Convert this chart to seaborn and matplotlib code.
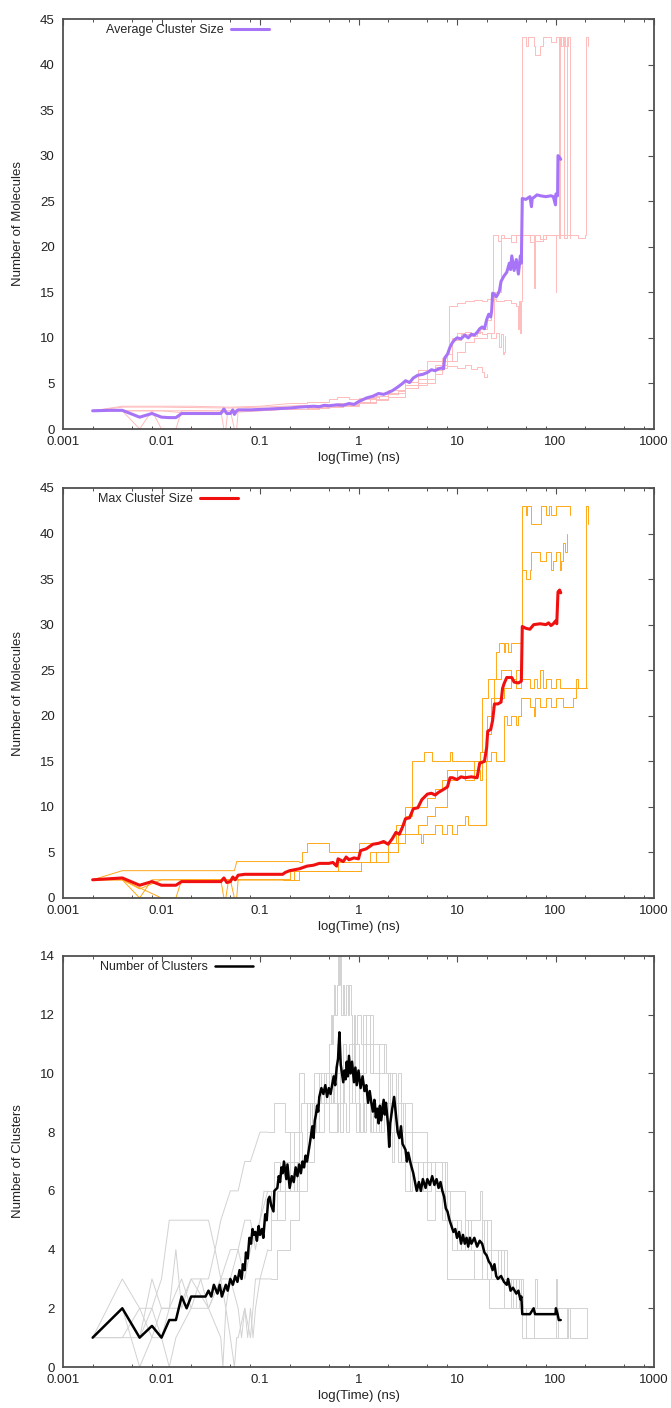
import numpy as np
import matplotlib
matplotlib.use("Agg")
import matplotlib.pyplot as plt
import seaborn as sns
from matplotlib.ticker import FixedLocator, FixedFormatter, LogLocator, NullFormatter

# ---------------- data ----------------
x_ticks = [0.001, 0.01, 0.1, 1, 10, 100, 1000]
x_tick_labels = ["0.001", "0.01", "0.1", "1", "10", "100", "1000"]

# Panel 1: average cluster size (mean over runs), (time ns, value)
avg_mean = [(0.002, 2.0), (0.003, 2.05), (0.004, 2.05), (0.006, 1.3), (0.008, 1.7), (0.01, 1.3), (0.012, 1.25),
            (0.014, 1.25), (0.016, 1.7), (0.02, 1.7), (0.03, 1.7), (0.04, 1.7), (0.043, 2.2), (0.046, 1.7),
            (0.05, 1.7), (0.053, 2.1), (0.055, 1.6), (0.058, 2.0), (0.06, 2.1), (0.08, 2.1), (0.1, 2.15),
            (0.13, 2.2), (0.16, 2.25), (0.2, 2.3), (0.25, 2.4), (0.3, 2.45), (0.35, 2.5), (0.4, 2.45),
            (0.45, 2.6), (0.5, 2.55), (0.6, 2.65), (0.7, 2.6), (0.8, 2.8), (0.9, 2.7), (1.0, 3.0), (1.1, 3.2),
            (1.2, 3.4), (1.4, 3.6), (1.6, 3.9), (1.8, 3.8), (2.0, 4.0), (2.2, 4.2), (2.5, 4.6), (2.8, 5.0),
            (3.0, 5.3), (3.3, 5.1), (3.6, 5.6), (4.0, 5.9), (4.5, 6.0), (5.0, 6.2), (5.5, 6.5), (6.0, 6.4),
            (6.5, 6.6), (7.0, 6.7), (7.3, 6.6), (7.5, 7.8), (8.0, 8.2), (8.5, 9.0), (9.0, 9.5), (9.5, 9.8),
            (10, 10.0), (11, 9.9), (12, 10.3), (13, 10.0), (14, 10.4), (15, 10.3), (16, 10.6), (17, 11.0),
            (18, 11.2), (19, 11.0), (20, 12.0), (21, 12.6), (22, 12.3), (22.5, 13.0), (23, 14.9), (24, 14.8),
            (25, 14.5), (26, 14.8), (27, 15.2), (28, 16.2), (30, 16.8), (32, 17.2), (34, 18.2), (35, 17.5),
            (36, 19.0), (38, 17.4), (40, 18.6), (42, 17.0), (44, 19.0), (45, 18.2), (46, 25.3), (50, 25.2),
            (55, 25.5), (57, 24.4), (58, 25.3), (60, 25.4), (65, 25.7), (70, 25.6), (80, 25.5), (90, 25.6),
            (95, 25.5), (100, 24.6), (101, 25.8), (105, 25.6), (106, 30.0), (110, 29.8), (113, 29.6)]

# Panel 1: individual runs
avg_run1 = [(0.002, 2), (0.004, 2), (0.006, 0), (0.008, 2), (0.01, 2), (0.04, 2), (0.043, 0), (0.045, 0),
            (0.047, 2), (0.1, 2), (0.2, 2.2), (0.3, 2.3), (0.5, 2.5), (0.8, 2.5), (1.0, 3), (1.5, 3.3), (2, 3.5),
            (3, 4.5), (4, 5), (5, 5), (6, 6), (7, 6.7), (8, 6.9), (10, 6.7), (12, 7), (14, 6.6), (16, 6.8),
            (18, 6.3), (19, 5.7), (20, 6.0)]
avg_run2 = [(0.002, 2), (0.004, 2), (0.006, 2), (0.008, 2), (0.01, 0), (0.014, 0), (0.016, 2), (0.05, 2),
            (0.055, 0), (0.058, 0), (0.06, 2), (0.1, 2.2), (0.2, 2.4), (0.4, 2.6), (0.7, 2.7), (1, 2.9),
            (1.3, 3.5), (1.6, 3.3), (2, 3.8), (2.5, 4.2), (3, 4.8), (4, 5.5), (5, 6.5), (6, 6.8), (7, 7.5),
            (8, 8.2), (9, 10), (10, 10.5), (12, 10.6), (14, 10.2), (16, 10.6), (18, 10.4), (20, 10.5),
            (22, 10.0), (25, 10.5), (27, 9), (28, 10.4), (29, 8.2), (30, 8.5), (31, 10.2)]
avg_run3 = [(0.002, 2), (0.004, 2.5), (0.02, 2.5), (0.05, 2.4), (0.1, 2.5), (0.2, 2.8), (0.3, 3.0), (0.5, 3.3),
            (0.6, 3.5), (0.8, 3.3), (1.0, 3.4), (1.5, 3.8), (2, 4.3), (3, 5.2), (4, 6.5), (5, 7.5), (6, 7.5),
            (7, 7.8), (8, 8.3), (8.3, 13.5), (10, 13.8), (12, 14.0), (15, 14.2), (18, 14.1), (20, 14.3),
            (25, 14.0), (30, 14.2), (35, 13.8), (40, 13.5), (42, 11), (43, 14), (44, 10.5), (45, 14), (46, 43),
            (50, 42), (52, 43), (55, 43), (60, 42), (62, 41), (70, 42), (75, 43), (80, 43), (90, 42.5),
            (100, 43), (108, 21), (110, 43), (120, 43), (122, 21), (130, 43)]
avg_run4 = [(0.002, 2), (0.004, 2.4), (0.01, 2.4), (0.05, 2.3), (0.1, 2.4), (0.3, 2.6), (0.6, 2.9), (1, 3.3),
            (1.5, 3.6), (2, 4.0), (3, 4.8), (5, 6.5), (7, 7.5), (9, 9.8), (11, 10.4), (14, 10.5), (17, 11),
            (20, 12), (22, 14), (23, 21.3), (26, 20.6), (28, 21.3), (30, 21), (35, 20.5), (40, 21.3), (50, 21.3),
            (55, 20.5), (60, 15.5), (62, 21.3), (70, 20.8), (80, 21.3), (100, 20.5), (101, 15.0), (102, 21.3),
            (150, 21.3), (170, 21), (200, 21.3), (205, 43), (215, 42)]
avg_run5 = [(0.002, 2), (0.004, 2), (0.006, 2), (0.01, 2), (0.016, 1.8), (0.05, 1.8), (0.1, 2), (0.2, 2.2),
            (0.4, 2.4), (0.7, 2.6), (1, 2.8), (1.5, 3.2), (2, 3.5), (3, 4.5), (4, 5.5), (6, 7), (8, 7.5),
            (10, 8.5), (12, 9.5), (15, 10), (18, 10), (20, 10.5), (24, 15), (28, 21), (35, 21.3), (45, 21.3),
            (60, 20.6), (75, 21.3), (100, 21.3), (108, 43), (115, 42), (120, 43), (125, 42), (135, 43), (140, 21)]

# Panel 2: max cluster size (mean over runs)
max_mean = [(0.002, 2.0), (0.004, 2.2), (0.006, 1.4), (0.008, 1.8), (0.01, 1.4), (0.014, 1.4), (0.016, 1.8),
            (0.04, 1.8), (0.043, 2.2), (0.046, 1.7), (0.05, 1.8), (0.053, 2.3), (0.056, 2.0), (0.06, 2.5),
            (0.07, 2.6), (0.1, 2.6), (0.17, 2.6), (0.18, 2.8), (0.2, 3.0), (0.25, 3.2), (0.3, 3.5), (0.35, 3.6),
            (0.4, 3.8), (0.5, 3.8), (0.55, 3.9), (0.6, 3.5), (0.62, 4.3), (0.7, 4.0), (0.75, 4.5), (0.8, 4.2),
            (0.9, 4.4), (1.0, 4.3), (1.05, 5.2), (1.2, 5.4), (1.4, 5.9), (1.6, 6.0), (1.8, 6.2), (2.0, 5.9),
            (2.2, 6.5), (2.4, 7.2), (2.6, 7.0), (2.8, 7.8), (3.0, 8.7), (3.3, 8.8), (3.6, 9.8), (4.0, 9.9),
            (4.4, 10.8), (5.0, 11.4), (5.5, 11.5), (6.0, 11.3), (6.5, 11.6), (7.0, 11.8), (7.5, 12.0),
            (8.0, 12.2), (8.5, 13.2), (9.0, 13.2), (10, 13.0), (11, 13.3), (12, 13.2), (14, 13.3), (16, 13.2),
            (17, 14.8), (18, 14.9), (19, 15.0), (20, 16.5), (20.5, 18.3), (22, 18.5), (23, 19.5), (24, 21.3),
            (26, 21.3), (28, 21.5), (29, 23.0), (30, 23.5), (32, 24.2), (36, 24.2), (38, 23.7), (42, 23.6),
            (45, 23.8), (46, 29.8), (50, 29.6), (55, 29.5), (60, 30.0), (70, 30.1), (80, 30.0), (85, 30.2),
            (90, 29.9), (95, 30.1), (100, 30.4), (103, 30.1), (106, 33.6), (110, 33.8), (113, 33.5)]

# Panel 2: individual runs
max_run1 = [(0.002, 2), (0.004, 3), (0.055, 3), (0.058, 4), (0.25, 4), (0.27, 5), (0.3, 6), (0.45, 6), (0.5, 5),
            (0.8, 5), (1.0, 6), (1.5, 6), (2, 6), (2.4, 8), (3, 10), (3.4, 10), (3.5, 15), (4.5, 15), (4.6, 16),
            (5.5, 16), (5.6, 15), (8, 15), (8.5, 16), (9, 15), (12, 15), (15, 15), (17, 16), (18, 22), (20, 22),
            (20.5, 24), (24, 24), (25, 27), (27, 28), (30, 27), (31, 28), (33, 27), (35, 28), (45, 28), (46, 43),
            (50, 42), (51, 43), (55, 43), (56, 41), (70, 41), (71, 43), (80, 42), (85, 43), (90, 42), (100, 43),
            (110, 43), (130, 43), (140, 42)]
max_run2 = [(0.002, 2), (0.004, 2), (0.006, 0), (0.008, 2), (0.04, 2), (0.043, 0), (0.045, 0), (0.048, 2),
            (0.17, 2), (0.2, 3), (1.0, 3), (1.05, 4), (1.3, 5), (2, 6), (2.5, 7), (3, 9), (3.5, 10), (4, 10),
            (5, 11), (6, 12), (7, 13), (8, 14), (10, 14), (12, 13), (15, 14), (17, 13), (18, 15), (20, 18),
            (22, 22), (24, 24), (28, 25), (35, 24), (40, 25), (45, 25), (46, 36), (50, 35), (55, 36), (57, 38),
            (70, 37), (80, 38), (90, 36), (95, 37), (100, 38), (110, 36), (115, 37), (120, 39), (125, 38),
            (130, 40)]
max_run3 = [(0.002, 2), (0.004, 2), (0.01, 0), (0.014, 0), (0.016, 2), (0.05, 2), (0.055, 0), (0.058, 0),
            (0.06, 2), (0.1, 2), (0.2, 2), (0.25, 3), (0.6, 3), (0.62, 4), (1, 4), (1.5, 5), (2, 5), (2.5, 6),
            (3, 7), (4, 8), (5, 9), (6, 10), (8, 13), (10, 14), (15, 15), (17, 16), (20, 20), (22, 21), (24, 22),
            (30, 23), (35, 24), (40, 23), (45, 24), (50, 24), (55, 23), (60, 24), (65, 23), (70, 25), (75, 23),
            (80, 24), (90, 23), (100, 24), (110, 23), (150, 23), (160, 24), (170, 23), (200, 23), (205, 43),
            (210, 43), (215, 41)]
max_run4 = [(0.002, 2), (0.004, 2), (0.006, 1), (0.01, 2), (0.2, 2), (0.22, 3), (1, 3), (1.05, 4), (2, 5),
            (2.5, 6), (3, 7), (4, 7), (4.3, 6), (4.5, 7), (6, 8), (7, 7), (8, 8), (9, 7), (10, 8), (12, 9),
            (13, 8), (17, 8), (19, 8), (19.5, 15), (22, 16), (25, 15), (30, 20), (32, 19), (35, 20), (40, 19),
            (42, 20), (45, 22), (55, 21), (60, 20), (62, 22), (70, 21), (80, 22), (90, 21), (100, 22), (120, 21),
            (150, 22), (160, 23), (210, 23)]

# Panel 3: number of clusters (mean over runs)
num_mean = [(0.002, 1.0), (0.004, 2.0), (0.006, 1.0), (0.008, 1.4), (0.01, 1.0), (0.012, 1.6), (0.014, 1.6),
            (0.016, 2.4), (0.018, 2.0), (0.02, 2.4), (0.028, 2.4), (0.03, 2.6), (0.032, 2.4), (0.034, 2.8),
            (0.037, 2.5), (0.039, 2.8), (0.041, 2.4), (0.045, 2.8), (0.047, 2.6), (0.05, 3.0), (0.053, 2.8),
            (0.056, 3.1), (0.059, 2.9), (0.062, 3.3), (0.065, 3.0), (0.067, 3.5), (0.07, 3.3), (0.072, 3.9),
            (0.075, 3.7), (0.078, 4.4), (0.081, 4.2), (0.084, 4.7), (0.087, 4.5), (0.09, 4.6), (0.093, 4.3),
            (0.097, 4.8), (0.1, 4.5), (0.105, 4.7), (0.108, 4.4), (0.113, 5.2), (0.117, 5.0), (0.121, 5.7),
            (0.125, 5.8), (0.13, 5.5), (0.137, 5.3), (0.14, 6.0), (0.15, 6.1), (0.155, 6.5), (0.16, 6.3),
            (0.165, 6.8), (0.17, 6.6), (0.175, 7.0), (0.18, 6.7), (0.185, 6.4), (0.19, 6.9), (0.2, 6.1),
            (0.21, 6.5), (0.22, 6.3), (0.23, 6.8), (0.24, 6.5), (0.25, 6.9), (0.26, 6.6), (0.27, 7.0),
            (0.28, 6.8), (0.29, 7.2), (0.3, 7.0), (0.31, 7.3), (0.32, 7.6), (0.33, 7.9), (0.34, 8.2),
            (0.35, 7.8), (0.36, 8.4), (0.37, 8.6), (0.38, 8.9), (0.39, 8.7), (0.4, 9.2), (0.42, 9.5),
            (0.44, 9.3), (0.46, 9.6), (0.48, 9.2), (0.5, 9.5), (0.52, 9.3), (0.54, 9.6), (0.56, 9.9),
            (0.58, 9.6), (0.6, 10.2), (0.62, 10.5), (0.64, 11.4), (0.66, 10.3), (0.68, 10.0), (0.7, 9.7),
            (0.72, 10.1), (0.74, 9.8), (0.76, 10.4), (0.78, 9.9), (0.8, 10.6), (0.83, 10.0), (0.86, 10.4),
            (0.9, 9.7), (0.93, 10.2), (0.96, 9.6), (1.0, 10.1), (1.05, 9.5), (1.1, 9.9), (1.15, 9.4),
            (1.2, 9.6), (1.25, 9.0), (1.3, 9.4), (1.35, 9.0), (1.4, 8.7), (1.45, 9.1), (1.5, 8.5), (1.55, 8.8),
            (1.6, 8.3), (1.65, 8.9), (1.7, 8.4), (1.8, 9.1), (1.85, 8.6), (1.9, 9.0), (2.0, 8.2), (2.05, 7.5),
            (2.1, 8.3), (2.2, 8.8), (2.3, 9.2), (2.4, 8.6), (2.5, 8.0), (2.6, 7.8), (2.7, 8.2), (2.8, 7.6),
            (3.0, 7.4), (3.1, 7.0), (3.2, 7.3), (3.4, 6.9), (3.6, 6.6), (3.8, 6.2), (3.9, 6.0), (4.1, 6.3),
            (4.3, 6.0), (4.5, 6.4), (4.8, 6.1), (5.0, 6.4), (5.3, 6.2), (5.6, 6.5), (5.9, 6.2), (6.2, 6.4),
            (6.5, 6.1), (6.8, 6.3), (7.1, 6.0), (7.4, 5.8), (7.7, 5.4), (8.0, 5.3), (8.4, 5.0), (8.8, 4.8),
            (9.2, 4.6), (9.6, 4.7), (10, 4.4), (10.5, 4.6), (11, 4.2), (11.5, 4.5), (12, 4.2), (12.5, 4.4),
            (13, 4.1), (13.5, 4.4), (14, 4.2), (15, 4.4), (16, 4.1), (17, 4.3), (18, 4.2), (19, 3.9),
            (20, 3.8), (21, 3.6), (22, 3.5), (23, 3.3), (24, 3.5), (25, 3.1), (26, 3.0), (28, 3.1), (30, 2.9),
            (32, 2.8), (33, 3.0), (35, 2.6), (37, 2.7), (40, 2.5), (42, 2.6), (44, 2.3), (45, 2.4), (46, 1.8),
            (55, 1.8), (60, 2.0), (62, 1.8), (80, 1.8), (100, 1.8), (101, 2.0), (105, 1.8), (108, 1.6),
            (113, 1.6)]

# Panel 3: individual runs
num_run1 = [(0.002, 1), (0.004, 2), (0.006, 0), (0.008, 1), (0.01, 1), (0.012, 0), (0.014, 1), (0.02, 2),
            (0.03, 2), (0.04, 1), (0.042, 0), (0.045, 2), (0.05, 1), (0.055, 0), (0.058, 1), (0.06, 1),
            (0.07, 2), (0.075, 1), (0.08, 2), (0.085, 1), (0.09, 2), (0.1, 3), (0.13, 3), (0.15, 4), (0.2, 5),
            (0.25, 6), (0.3, 7), (0.35, 8), (0.4, 9), (0.5, 8), (0.6, 9), (0.7, 10), (0.8, 9), (1.0, 10),
            (1.2, 11), (1.4, 10), (1.6, 9), (2.0, 8), (2.4, 9), (2.7, 8), (3, 7), (3.5, 7), (4, 6), (5, 5),
            (6, 6), (7, 5), (8, 3), (10, 3), (15, 3), (20, 3), (21, 2), (100, 2), (110, 2), (150, 2),
            (200, 2), (210, 1)]
num_run2 = [(0.002, 1), (0.004, 3), (0.006, 2), (0.008, 2), (0.01, 3), (0.012, 5), (0.03, 5), (0.035, 4),
            (0.04, 5), (0.05, 6), (0.06, 6), (0.07, 7), (0.08, 7), (0.1, 8), (0.12, 8), (0.14, 9), (0.16, 9),
            (0.18, 8), (0.25, 8), (0.26, 9), (0.3, 9), (0.35, 10), (0.45, 10), (0.5, 11), (0.52, 12),
            (0.54, 11), (0.55, 12), (0.57, 13), (0.58, 12), (0.6, 13), (0.62, 14), (0.63, 13), (0.65, 14),
            (0.67, 12), (0.7, 13), (0.72, 12), (0.75, 13), (0.78, 12), (0.8, 13), (0.83, 12), (0.86, 11),
            (0.9, 12), (0.93, 11), (0.96, 12), (1.0, 12), (1.05, 11), (1.1, 12), (1.2, 11), (1.3, 12),
            (1.4, 11), (1.5, 11), (1.6, 10), (1.8, 11), (1.9, 10), (2.0, 9), (2.2, 10), (2.4, 9), (2.5, 10),
            (2.7, 9), (3.0, 9), (3.5, 8), (4, 8), (5, 7), (6, 7), (7, 7), (8, 6), (10, 6), (12, 5), (15, 5),
            (17, 6), (18, 5), (20, 5), (22, 4), (25, 4), (30, 4), (32, 3), (40, 3), (45, 3), (47, 2), (60, 2),
            (62, 3), (65, 2), (100, 2), (102, 3), (104, 2), (113, 2)]
num_run3 = [(0.002, 1), (0.004, 1), (0.006, 1), (0.008, 3), (0.01, 2), (0.012, 2), (0.014, 4), (0.016, 2),
            (0.02, 3), (0.03, 3), (0.035, 4), (0.04, 3), (0.05, 4), (0.06, 4), (0.07, 5), (0.08, 5), (0.09, 4),
            (0.1, 5), (0.11, 6), (0.13, 5), (0.15, 6), (0.18, 7), (0.2, 8), (0.22, 7), (0.25, 10), (0.28, 9),
            (0.3, 8), (0.35, 9), (0.4, 10), (0.45, 9), (0.5, 10), (0.55, 9), (0.6, 11), (0.65, 10), (0.7, 11),
            (0.75, 10), (0.8, 11), (0.85, 10), (0.9, 11), (1.0, 10), (1.1, 11), (1.2, 12), (1.3, 10),
            (1.4, 11), (1.6, 11), (1.8, 10), (2.0, 10), (2.2, 9), (2.5, 8), (2.8, 9), (3, 8), (3.5, 7), (4, 7),
            (4.5, 6), (5, 6), (5.5, 7), (6, 7), (7, 6), (8, 5), (9, 5), (10, 4), (12, 5), (14, 4), (16, 4),
            (20, 5), (22, 3), (28, 4), (30, 3), (35, 2), (40, 3), (45, 2), (46, 1), (100, 1), (130, 1),
            (135, 2), (140, 1), (210, 1)]
num_run4 = [(0.002, 1), (0.004, 2), (0.006, 1), (0.008, 2), (0.01, 1), (0.012, 2), (0.016, 3), (0.02, 2),
            (0.025, 3), (0.03, 2), (0.04, 3), (0.045, 2), (0.05, 3), (0.06, 2), (0.065, 1), (0.07, 2),
            (0.08, 1), (0.09, 3), (0.1, 3), (0.12, 4), (0.13, 5), (0.16, 5), (0.18, 6), (0.2, 7), (0.22, 6),
            (0.24, 7), (0.25, 8), (0.27, 7), (0.3, 8), (0.32, 9), (0.34, 8), (0.35, 9), (0.37, 8), (0.4, 10),
            (0.42, 9), (0.45, 9), (0.47, 10), (0.5, 9), (0.53, 10), (0.56, 9), (0.6, 8), (0.62, 9), (0.65, 8),
            (0.7, 10), (0.72, 9), (0.75, 8), (0.8, 9), (0.85, 10), (0.9, 11), (0.92, 9), (0.95, 8), (1.0, 9),
            (1.03, 8), (1.1, 9), (1.15, 8), (1.2, 9), (1.3, 8), (1.4, 9), (1.5, 8), (1.6, 9), (1.7, 8),
            (1.8, 9), (2, 10), (2.1, 8), (2.2, 7), (2.3, 8), (2.5, 7), (2.7, 8), (3, 7), (3.3, 6), (3.5, 7),
            (4, 6), (4.5, 7), (5, 6), (5.5, 7), (6, 6), (7, 6), (7.5, 5), (8, 6), (8.5, 5), (9, 4), (10, 5),
            (11, 4), (12, 5), (13, 4), (15, 4), (18, 5), (19, 4), (20, 4), (22, 3), (25, 3), (26, 4), (28, 3),
            (30, 3), (35, 2), (37, 3), (40, 2), (43, 3), (45, 2), (100, 2), (105, 1), (113, 1)]
num_run5 = [(0.002, 1), (0.004, 1), (0.006, 2), (0.008, 1), (0.01, 2), (0.015, 2), (0.02, 3), (0.03, 2),
            (0.04, 3), (0.05, 3), (0.06, 4), (0.07, 3), (0.08, 4), (0.1, 5), (0.12, 6), (0.14, 7), (0.16, 6),
            (0.2, 6), (0.25, 7), (0.3, 8), (0.35, 9), (0.4, 8), (0.45, 9), (0.5, 9), (0.55, 10), (0.6, 10),
            (0.65, 8), (0.7, 11), (0.75, 10), (0.8, 10), (0.85, 9), (0.9, 9), (1.0, 10), (1.1, 9), (1.2, 9),
            (1.35, 8), (1.5, 8), (1.7, 9), (2, 9), (2.3, 8), (2.5, 7), (3, 6), (3.5, 7), (4, 6), (5, 7), (6, 6),
            (7, 7), (7.5, 5), (8, 5), (10, 4), (12, 4), (15, 3), (18, 4), (20, 3), (25, 3), (30, 2), (35, 3),
            (40, 2), (45, 2), (50, 1), (60, 2), (100, 1), (130, 2), (135, 1)]

# ---------------- style ----------------
sns.set_style("white")
plt.rcParams["font.family"] = ["Liberation Sans", "DejaVu Sans"]

W, H = 671, 1408
fig = plt.figure(figsize=(W / 100, H / 100), dpi=100)
fig.patch.set_facecolor("white")

LEFT, RIGHT = 63, 654
AXCOL = "#505050"
TXT = "#222222"


def make_axes(top, bottom):
    return fig.add_axes([LEFT / W, 1 - bottom / H, (RIGHT - LEFT) / W, (bottom - top) / H])


def draw_run(ax, pairs, color):
    t = np.array([p[0] for p in pairs], dtype=float)
    y = np.array([p[1] for p in pairs], dtype=float)
    n = int((t <= 0.1).sum())
    # sparse early samples: straight segments; dense later samples: steps
    ax.plot(t[:n + 1], y[:n + 1], color=color, lw=0.7, zorder=1)
    ax.plot(t[n:], y[n:], color=color, lw=0.7, drawstyle="steps-post", zorder=1)


def draw_mean(ax, pairs, color, lw, label):
    t = [p[0] for p in pairs]
    y = [p[1] for p in pairs]
    sns.lineplot(x=t, y=y, ax=ax, color=color, lw=lw, estimator=None, sort=False,
                 legend=False, zorder=3)
    line = ax.get_lines()[-1]
    line.set_label(label)
    return line


def style_axes(ax, ymax, ystep, ylabel, handle, legend_x):
    ax.set_xscale("log")
    ax.set_xlim(0.001, 1000)
    ax.set_ylim(0, ymax)
    ax.xaxis.set_major_locator(FixedLocator(x_ticks))
    ax.xaxis.set_major_formatter(FixedFormatter(x_tick_labels))
    ax.xaxis.set_minor_locator(LogLocator(base=10, subs=[2, 5, 8]))
    ax.xaxis.set_minor_formatter(NullFormatter())
    yt = np.arange(0, ymax + 0.01, ystep)
    ax.set_yticks(yt)
    ax.set_yticklabels([f"{int(v)}" for v in yt])
    for s in ax.spines.values():
        s.set_visible(True)
        s.set_color(AXCOL)
        s.set_linewidth(1.3)
    ax.tick_params(axis="both", which="major", direction="in", length=4, width=0.8,
                   color=AXCOL, top=True, right=True, labelsize=9.5, labelcolor=TXT)
    ax.tick_params(axis="x", which="major", pad=5)
    ax.tick_params(axis="y", which="major", pad=6)
    ax.tick_params(axis="x", which="minor", direction="in", length=2.5, width=0.7,
                   color=AXCOL, top=True, bottom=True)
    ax.tick_params(axis="y", which="minor", left=False, right=False)
    ax.set_xlabel("log(Time) (ns)", fontsize=9.5, color=TXT)
    ax.set_ylabel(ylabel, fontsize=9.5, color=TXT)
    ax.xaxis.set_label_coords(0.5, -0.057)
    ax.yaxis.set_label_coords(-0.066, 0.5)
    ax.grid(False)
    ax.legend(handles=[handle], loc="upper left", bbox_to_anchor=(legend_x, 0.988), frameon=False,
              markerfirst=False, handlelength=3.0, handletextpad=0.6, borderpad=0, borderaxespad=0,
              fontsize=9)


# Panel 1
ax1 = make_axes(19, 429)
for run in [avg_run1, avg_run2, avg_run3, avg_run4, avg_run5]:
    draw_run(ax1, run, "#ffbcbc")
h1 = draw_mean(ax1, avg_mean, "#a874f7", 2.2, "Average Cluster Size")
style_axes(ax1, 45, 5, "Number of Molecules", h1, 0.073)

# Panel 2
ax2 = make_axes(488, 898)
for run in [max_run1, max_run2, max_run3, max_run4]:
    draw_run(ax2, run, "#ffa818")
h2 = draw_mean(ax2, max_mean, "#f01010", 2.2, "Max Cluster Size")
style_axes(ax2, 45, 5, "Number of Molecules", h2, 0.059)

# Panel 3
ax3 = make_axes(956, 1367)
for run in [num_run1, num_run2, num_run3, num_run4, num_run5]:
    draw_run(ax3, run, "#d2d2d2")
h3 = draw_mean(ax3, num_mean, "black", 1.8, "Number of Clusters")
style_axes(ax3, 14, 2, "Number of Clusters", h3, 0.0626)

fig.savefig("out.png", dpi=100, facecolor="white")
